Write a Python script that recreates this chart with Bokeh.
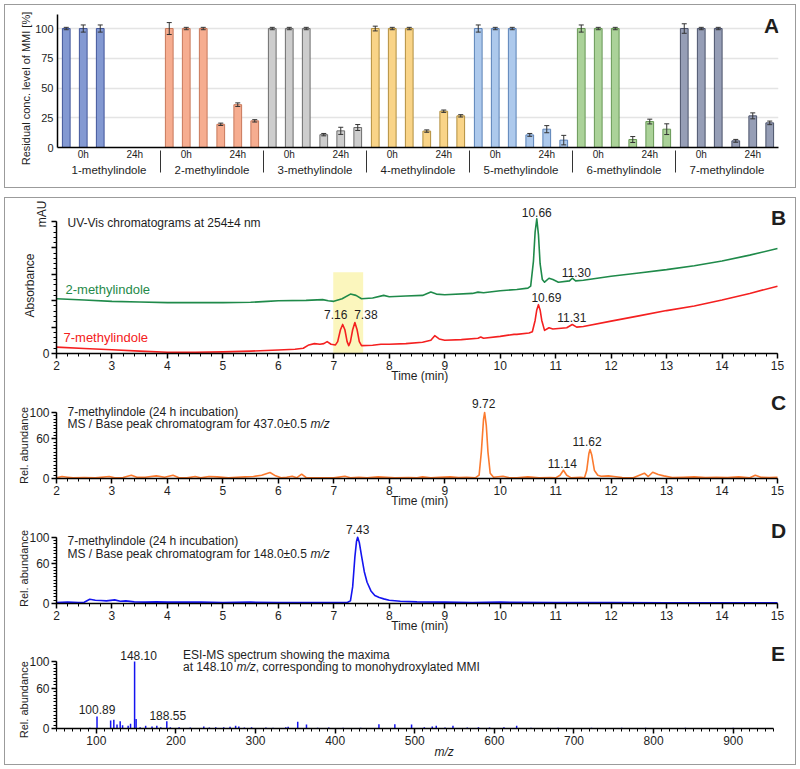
import math
from bokeh.plotting import figure
from bokeh.models import (ColumnDataSource, FactorRange, Range1d, FixedTicker, LinearAxis,
                          SingleIntervalTicker, Whisker, TeeHead, Label, BoxAnnotation, Spacer)
from bokeh.transform import dodge
from bokeh.layouts import column, row
from bokeh.embed import file_html
from bokeh.resources import INLINE

FONT = "Liberation Sans"
TXT = "#1e1e1e"
BORDER = "#9b9b9b"

# ---------------- Panel A data ----------------
compounds = ["1-methylindole", "2-methylindole", "3-methylindole", "4-methylindole",
             "5-methylindole", "6-methylindole", "7-methylindole"]
timepoints = ["0h", "24h"]
# order: (compound, 0h), (compound, 24h) ...
rep1_vals = [100, 0, 100, 19.5, 100, 10.8, 100, 13.8, 100, 10.6, 100, 6.7, 100, 5.6]
rep2_vals = [100, 0, 100, 36.0, 100, 14.0, 100, 30.5, 100, 15.4, 100, 21.8, 100, 26.6]
rep3_vals = [100, 0, 100, 22.4, 100, 16.8, 100, 26.6, 100, 6.2, 100, 15.4, 100, 20.7]
rep1_err = [1, 0, 5, 1, 1, 1, 2, 1, 3, 1.2, 3, 2.5, 4, 1.2]
rep2_err = [3, 0, 1, 1.5, 1, 3, 1, 1, 1, 3, 1, 2, 1, 2.5]
rep3_err = [3, 0, 1, 1, 1, 2.5, 1, 1, 1, 4, 1, 4.5, 1, 1.5]
bar_fill = ["#8399d2", "#f6ad90", "#cdcdcd", "#f9d488", "#adc9ec", "#abd299", "#969eb6"]
bar_line = ["#40559a", "#c8785a", "#6d6d6d", "#b38f3e", "#5a82b8", "#679855", "#4b526b"]

# ---------------- Panel B data (UV-Vis, mAU, arbitrary scale) ----------------
t_2mi = [2.0, 2.5, 3.0, 3.5, 4.0, 4.5, 5.0, 5.5, 5.8, 6.0, 6.5, 6.8, 6.9, 7.0, 7.15, 7.3, 7.4,
         7.5, 7.7, 7.9, 8.0, 8.3, 8.6, 8.75, 8.85, 9.0, 9.5, 9.6, 9.7, 10.0, 10.3, 10.5, 10.55,
         10.6, 10.63, 10.66, 10.69, 10.72, 10.76, 10.8, 10.88, 10.95, 11.05, 11.25, 11.3, 11.36,
         11.5, 12.0, 12.5, 13.0, 13.5, 14.0, 14.5, 15.0]
y_2mi = [41.5, 40.5, 39.5, 39.0, 38.5, 38.5, 38.5, 38.8, 39.5, 40.0, 40.2, 40.8, 40.0, 39.5,
         41.5, 45.0, 44.0, 41.5, 42.0, 44.0, 43.0, 43.5, 44.0, 46.5, 45.0, 44.5, 45.5, 46.5,
         46.0, 47.5, 48.5, 49.5, 51.0, 70.0, 92.0, 102.0, 90.0, 68.0, 56.0, 54.0, 57.0, 56.0,
         54.0, 55.0, 57.0, 55.0, 55.5, 58.5, 61.0, 63.5, 66.5, 70.0, 74.5, 79.5]
t_7mi = [2.0, 2.5, 3.0, 3.5, 4.0, 4.5, 5.0, 5.5, 6.0, 6.3, 6.45, 6.55, 6.65, 6.75, 6.82, 6.88,
         6.95, 7.03, 7.07, 7.12, 7.16, 7.20, 7.24, 7.27, 7.30, 7.34, 7.38, 7.42, 7.46, 7.50,
         7.70, 7.85, 8.0, 8.3, 8.6, 8.75, 8.82, 8.9, 9.0, 9.3, 9.6, 9.65, 9.7, 10.0, 10.25,
         10.3, 10.52, 10.58, 10.63, 10.66, 10.69, 10.72, 10.75, 10.80, 10.88, 10.95, 11.2, 11.3,
         11.38, 11.5, 12.0, 12.5, 13.0, 13.5, 14.0, 14.5, 15.0]
y_7mi = [4.8, 3.8, 2.8, 1.8, 1.0, 1.0, 1.2, 1.8, 2.6, 3.2, 4.0, 6.5, 7.5, 7.0, 7.5, 9.0, 7.0,
         6.5, 9.0, 18.0, 22.0, 18.0, 9.0, 6.0, 9.0, 18.0, 23.5, 18.0, 9.0, 6.0, 6.2, 7.0, 7.0,
         7.5, 8.5, 10.0, 13.5, 11.0, 10.0, 10.5, 11.5, 12.5, 11.5, 13.0, 14.5, 14.5, 15.5, 16.5,
         25.0, 33.0, 37.0, 33.0, 25.0, 17.5, 19.5, 18.5, 19.5, 22.0, 20.0, 20.5, 24.5, 28.5,
         32.5, 36.0, 40.5, 45.5, 51.0]

# ---------------- Panel C data (437.0 m/z) ----------------
t_437 = [2.0, 2.1, 2.2, 2.3, 2.5, 2.7, 2.95, 3.05, 3.2, 3.35, 3.45, 3.6, 3.8, 3.95, 4.1, 4.2,
         4.35, 4.5, 4.6, 4.75, 4.9, 5.1, 5.25, 5.4, 5.55, 5.7, 5.85, 5.95, 6.05, 6.15, 6.25,
         6.33, 6.42, 6.5, 6.7, 7.0, 7.2, 7.3, 7.45, 7.6, 7.8, 7.95, 8.1, 8.35, 8.5, 8.6, 8.75,
         8.9, 9.1, 9.25, 9.4, 9.55, 9.62, 9.66, 9.70, 9.72, 9.75, 9.78, 9.82, 9.88, 10.05,
         10.15, 10.3, 10.5, 10.7, 10.9, 11.0, 11.08, 11.14, 11.2, 11.28, 11.45, 11.52, 11.56,
         11.6, 11.62, 11.65, 11.7, 11.76, 11.82, 11.95, 12.05, 12.2, 12.4, 12.6, 12.67, 12.75,
         12.85, 12.95, 13.1, 13.3, 13.5, 13.7, 13.9, 14.1, 14.3, 14.5, 14.6, 14.7, 14.85, 15.0]
y_437 = [1, 3, 2, 1, 1.5, 1, 3, 1, 1.5, 5, 2, 2, 4, 2, 5, 1.5, 1, 3, 1, 3, 2.5, 1, 2, 2.5, 3,
         5, 9, 4, 1, 2, 3.5, 1, 6.5, 1.5, 1, 1, 3.5, 1, 2, 1, 2.5, 2, 1, 1.5, 1, 2.5, 1, 2,
         2.5, 1.5, 2, 1, 5, 40, 90, 100, 80, 40, 8, 2, 3.5, 1.5, 1, 2.5, 1, 1.5, 1, 5, 12.5,
         5, 1, 2, 1, 12, 38, 44, 36, 12, 5, 3.5, 4, 3, 1.5, 1, 8, 3, 9.5, 6, 4, 1.5, 2, 2.5,
         1.5, 2, 1.5, 2.5, 1, 5, 2, 1.5, 2]

# ---------------- Panel D data (148.0 m/z) ----------------
t_148 = [2.0, 2.2, 2.4, 2.5, 2.6, 2.7, 2.8, 2.9, 3.05, 3.15, 3.25, 3.4, 3.6, 3.8, 4.0, 4.3,
         4.6, 5.0, 5.5, 6.0, 6.3, 6.6, 7.0, 7.25, 7.3, 7.34, 7.38, 7.41, 7.43, 7.46, 7.5, 7.55,
         7.6, 7.67, 7.74, 7.82, 7.9, 8.0, 8.2, 8.5, 9.0, 9.5, 10.0, 11.0, 12.0, 13.0, 14.0, 15.0]
y_148 = [1.5, 2, 1.5, 2, 6.5, 5, 4.5, 4, 5.5, 3.5, 4, 2.5, 2, 2.5, 2, 2, 2, 1.5, 2, 1.5, 1.5,
         1.5, 1.5, 1.8, 4, 25, 70, 94, 100, 92, 72, 48, 32, 19, 12, 9, 7, 5, 3.5, 2.5, 2, 1.5,
         2, 1.5, 1.5, 1.2, 1.2, 1.2]

# ---------------- Panel E data (ESI-MS spectrum) ----------------
mz = [92, 100.89, 118, 122, 126, 130, 133, 140, 143, 148.10, 150, 155, 162, 170, 176, 181,
      188.55, 193, 204, 218, 235, 242, 250, 260, 268, 275, 279, 286, 295, 313, 322, 338, 341,
      353, 364, 378, 392, 410, 432, 455, 475, 496, 512, 522, 527, 538, 548, 566, 580, 594, 612,
      628, 646, 680, 722, 760, 790, 840, 900]
ab = [1, 18, 12, 13, 6, 11, 5, 4, 7, 100, 14, 2, 4, 3, 4, 2, 11, 2, 2, 1.5, 3, 1.5, 2, 2, 2.5,
      4, 3, 1.5, 2, 1.5, 1, 2, 2.5, 10, 6, 1, 1.5, 1, 1, 6.5, 6.5, 6, 2, 3, 4, 1.5, 4, 1.5, 2,
      1.5, 2, 4, 1, 1, 1, 1, 1, 1, 1]


def lab(p, text, x, y, size="12px", color=TXT, align="left", style="normal",
        x_offset=0, baseline="middle"):
    p.add_layout(Label(x=x, y=y, text=text, x_offset=x_offset, text_font=FONT,
                       text_font_size=size, text_color=color, text_align=align,
                       text_baseline=baseline, text_font_style=style))


def style_axis(ax, tick_out=5, minor_out=3, size="12px"):
    ax.axis_line_color = "black"
    ax.axis_line_width = 1.5
    ax.major_tick_line_color = "black"
    ax.major_tick_line_width = 1.5
    ax.minor_tick_line_color = "black"
    ax.minor_tick_line_width = 1
    ax.major_tick_in = 0
    ax.major_tick_out = tick_out
    ax.minor_tick_in = 0
    ax.minor_tick_out = minor_out
    ax.major_label_text_font = FONT
    ax.major_label_text_font_size = size
    ax.major_label_text_color = TXT
    ax.major_label_standoff = 2


def title_axis(text, at, standoff, size="12px", style="normal", vertical=False):
    """An axis without line or ticks whose single tick label acts as the axis title,
    placed at data position `at`."""
    ax = LinearAxis(ticker=FixedTicker(ticks=[at]), major_label_overrides={at: text},
                    axis_line_color=None, major_tick_line_color=None,
                    minor_tick_line_color=None, major_tick_in=0, major_tick_out=0,
                    minor_tick_in=0, minor_tick_out=0, major_label_standoff=standoff,
                    major_label_text_font=FONT, major_label_text_font_size=size,
                    major_label_text_font_style=style, major_label_text_color=TXT)
    if vertical:
        ax.major_label_orientation = "parallel"
    return ax


FIG_W = 790


def base_fig(height, top, bottom, y_end, x_range, x_bounds):
    p = figure(width=FIG_W, height=height, x_range=x_range, y_range=Range1d(0, y_end),
               output_backend="svg", toolbar_location=None,
               min_border_left=51, min_border_right=1, min_border_top=top,
               min_border_bottom=bottom)
    p.grid.visible = False
    p.outline_line_color = None
    style_axis(p.xaxis[0])
    style_axis(p.yaxis[0])
    p.yaxis[0].bounds = (0, 100)
    p.xaxis[0].bounds = x_bounds
    return p


def time_axis(p):
    ax = p.xaxis[0]
    ax.ticker = SingleIntervalTicker(interval=1, num_minor_ticks=5)
    p.add_layout(title_axis("Time (min)", 8.55, -4), "below")


# ================= Panel A =================
factors = [(c, t) for c in compounds for t in timepoints]
pA = figure(width=FIG_W, height=182,
            x_range=FactorRange(factors=factors, range_padding=0, group_padding=0,
                                subgroup_padding=0, factor_padding=0),
            y_range=Range1d(0, 111.8), output_backend="svg", toolbar_location=None,
            min_border_left=52, min_border_right=17, min_border_top=9, min_border_bottom=40)
pA.outline_line_color = None
pA.xgrid.visible = False
pA.ygrid.grid_line_color = "#e4e4e4"
pA.ygrid.grid_line_width = 1.5

offsets = [-0.33, 0.0, 0.33]
for vals, errs, off in zip([rep1_vals, rep2_vals, rep3_vals],
                           [rep1_err, rep2_err, rep3_err], offsets):
    keep = [i for i, v in enumerate(vals) if v > 0]
    src = ColumnDataSource(dict(
        x=[factors[i] for i in keep],
        top=[vals[i] for i in keep],
        upper=[vals[i] + errs[i] for i in keep],
        lower=[vals[i] - errs[i] for i in keep],
        fill=[bar_fill[i // 2] for i in keep],
        line=[bar_line[i // 2] for i in keep]))
    pA.vbar(x=dodge("x", off, range=pA.x_range), top="top", width=0.15, source=src,
            fill_color="fill", line_color="line", line_width=1)
    pA.add_layout(Whisker(source=src, base=dodge("x", off, range=pA.x_range),
                          upper="upper", lower="lower", line_color="#333333",
                          line_width=1, level="overlay",
                          upper_head=TeeHead(size=5, line_color="#333333", line_width=1),
                          lower_head=TeeHead(size=5, line_color="#333333", line_width=1)))

xa = pA.xaxis[0]
xa.axis_line_color = "black"
xa.axis_line_width = 1.5
xa.major_tick_line_color = None
xa.major_tick_out = 0
xa.major_tick_in = 0
xa.minor_tick_line_color = None
xa.major_label_text_font = FONT
xa.major_label_text_font_size = "10px"
xa.major_label_text_color = TXT
xa.major_label_standoff = 1
xa.group_text_font = FONT
xa.group_text_font_size = "11.5px"
xa.group_text_color = TXT
xa.group_text_font_style = "normal"
xa.separator_line_color = "#333333"
xa.separator_line_width = 1
ya = pA.yaxis[0]
ya.ticker = FixedTicker(ticks=[0, 25, 50, 75, 100])
ya.axis_line_color = "black"
ya.axis_line_width = 1.5
ya.major_tick_out = 0
ya.major_tick_in = 0
ya.minor_tick_line_color = None
ya.major_label_text_font = FONT
ya.major_label_text_font_size = "11px"
ya.major_label_text_color = TXT
ya.major_label_standoff = 4
pA.add_layout(title_axis("Residual conc. level of MMI [%]", 49.6, 0, size="11px",
                         vertical=True), "left")
lab(pA, "A", 14, 102.5, size="21px", align="center", style="bold", x_offset=-7)

# ================= Panel B =================
pB = base_fig(188, 5, 33, 113.6, Range1d(2, 15.307), (2, 15))
pB.add_layout(BoxAnnotation(left=6.99, right=7.53, bottom=0, top=61.6,
                            fill_color="#fbf6bd", fill_alpha=1, line_color=None,
                            level="underlay"))
pB.line(t_2mi, y_2mi, line_color="#1f8a4a", line_width=1.6, line_join="round")
pB.line(t_7mi, y_7mi, line_color="#f42020", line_width=1.6, line_join="round")
time_axis(pB)
pB.yaxis[0].ticker = FixedTicker(ticks=[0, 20, 40, 60, 80, 100],
                                 minor_ticks=list(range(0, 101, 4)))
pB.yaxis[0].major_label_overrides = {20: "", 40: "", 60: "", 80: "", 100: ""}
pB.add_layout(title_axis("mAU", 105.7, -10, vertical=True), "left")
pB.add_layout(title_axis("Absorbance", 51.5, -5, vertical=True), "left")
lab(pB, "UV-Vis chromatograms at 254\u00b14 nm", 2, 98.5, x_offset=11)
lab(pB, "2-methylindole", 2, 48.5, size="13px", color="#1f8a4a", x_offset=9)
lab(pB, "7-methylindole", 2, 12.3, size="13px", color="#f42020", x_offset=7)
lab(pB, "7.16", 7.16, 29.5, align="center", x_offset=-7)
lab(pB, "7.38", 7.38, 29.5, align="center", x_offset=11)
lab(pB, "10.66", 10.66, 107.0, align="center")
lab(pB, "11.30", 11.30, 61.6, align="center", x_offset=4)
lab(pB, "10.69", 10.69, 42.4, align="center", x_offset=8)
lab(pB, "11.31", 11.31, 27.5, align="center", x_offset=-1)
lab(pB, "B", 15, 103.3, size="21px", align="center", style="bold", x_offset=1)


def ms_fig(height, top, bottom, y_end, x_range, x_bounds, title_at):
    p = base_fig(height, top, bottom, y_end, x_range, x_bounds)
    p.yaxis[0].ticker = FixedTicker(ticks=[0, 60, 100], minor_ticks=list(range(0, 101, 5)))
    p.add_layout(title_axis("Rel. abundance", title_at, -4, size="11px", vertical=True),
                 "left")
    return p


# ================= Panel C =================
pC = ms_fig(124, 4, 32, 133.3, Range1d(2, 15.307), (2, 15), 50)
pC.line(t_437, y_437, line_color="#fb7a2e", line_width=1.6, line_join="round")
time_axis(pC)
lab(pC, "7-methylindole (24 h incubation)", 2, 100.5, x_offset=11)
lab(pC, "MS / Base peak chromatogram for 437.0\u00b10.5 ", 2, 81.8, x_offset=11)
lab(pC, "m/z", 2, 81.8, x_offset=254, style="italic")
lab(pC, "9.72", 9.72, 113.6, align="center", x_offset=-1)
lab(pC, "11.14", 11.14, 23.2, align="center", x_offset=-1)
lab(pC, "11.62", 11.62, 56.5, align="center", x_offset=-3)
lab(pC, "C", 15, 115.6, size="21px", align="center", style="bold", x_offset=1)

# ================= Panel D =================
pD = ms_fig(127, 8, 34, 128.2, Range1d(2, 15.307), (2, 15), 52.8)
pD.line(t_148, y_148, line_color="#1414f0", line_width=1.6, line_join="round")
time_axis(pD)
lab(pD, "7-methylindole (24 h incubation)", 2, 94.0, x_offset=11)
lab(pD, "MS / Base peak chromatogram for 148.0\u00b10.5 ", 2, 75.4, x_offset=11)
lab(pD, "m/z", 2, 75.4, x_offset=254, style="italic")
lab(pD, "7.43", 7.43, 111.6, align="center")
lab(pD, "D", 15, 110.1, size="21px", align="center", style="bold", x_offset=1)

# ================= Panel E =================
pE = ms_fig(127, 4, 36, 129.9, Range1d(50, 977), (50, 950), 43)
pE.segment(x0=mz, y0=[0] * len(mz), x1=mz, y1=ab, line_color="#1414f0", line_width=1.5)
pE.xaxis[0].ticker = SingleIntervalTicker(interval=100, num_minor_ticks=10)
pE.add_layout(title_axis("m/z", 537, -3, style="italic"), "below")
lab(pE, "ESI-MS spectrum showing the maxima", 208.9, 110.4)
lab(pE, "at 148.10 ", 208.9, 91.5)
lab(pE, "m/z", 208.9, 91.5, x_offset=53.4, style="italic")
lab(pE, ", corresponding to monohydroxylated MMI", 208.9, 91.5, x_offset=72.7)
lab(pE, "148.10", 148.10, 109.0, align="center", x_offset=4)
lab(pE, "100.89", 100.89, 27.9, align="center")
lab(pE, "188.55", 188.55, 19.4, align="center", x_offset=1)
lab(pE, "E", 950, 111.9, size="21px", align="center", x_offset=5, style="bold")

boxA = column(pA, styles={"border": "1px solid " + BORDER})
boxB = column(pB, pC, pD, pE, styles={"border": "1px solid " + BORDER})
page = row(Spacer(width=4),
           column(Spacer(height=4), boxA, Spacer(height=9), boxB))

open("out.html", "w").write(file_html(page, INLINE))
